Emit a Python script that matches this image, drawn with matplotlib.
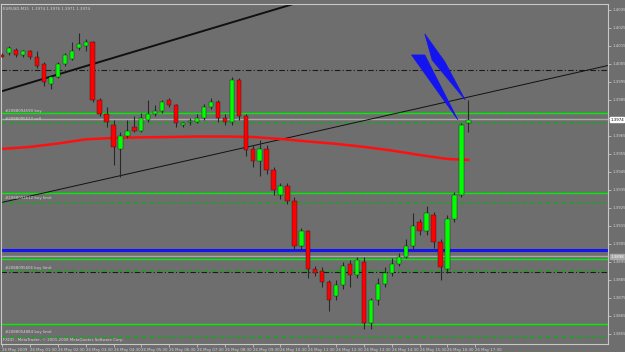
import numpy as np
import matplotlib
matplotlib.use('Agg')
import matplotlib.pyplot as plt
from matplotlib.patches import Polygon

# ---------------------------------------------------------------------------
# Style
# ---------------------------------------------------------------------------
BG     = '#6e6e6e'
FG     = '#d4d4d4'
BULL   = '#00ff00'
BEAR   = '#ff0000'
WICK   = '#282828'
GREEN  = '#00ee00'
DGREEN = '#00b800'
BLUE   = '#1414f0'
MONO   = 'DejaVu Sans'
SMALL  = 2.8

# ---------------------------------------------------------------------------
# EURUSD M15 bars, 26 May 2009
# ---------------------------------------------------------------------------
OPEN = [1.4010, 1.4011, 1.4013, 1.4010, 1.4012, 1.4009, 1.4005, 1.3994, 1.3998, 1.4005,
        1.4008, 1.4014, 1.4015, 1.4017, 1.3985, 1.3977, 1.3971, 1.3958, 1.3965, 1.3970,
        1.3968, 1.3974, 1.3977, 1.3979, 1.3985, 1.3982, 1.3971, 1.3973, 1.3973, 1.3975,
        1.3981, 1.3984, 1.3975, 1.3973, 1.3996, 1.3976, 1.3958, 1.3951, 1.3958, 1.3946,
        1.3932, 1.3937, 1.3929, 1.3904, 1.3912, 1.3891, 1.3890, 1.3884, 1.3876, 1.3882,
        1.3894, 1.3888, 1.3895, 1.3861, 1.3874, 1.3883, 1.3889, 1.3894, 1.3898, 1.3904,
        1.3917, 1.3912, 1.3921, 1.3906, 1.3891, 1.3919, 1.3932, 1.3972]
HIGH = [1.4011, 1.4015, 1.4014, 1.4013, 1.4013, 1.4012, 1.4006, 1.3999, 1.4006, 1.4011,
        1.4017, 1.4022, 1.4019, 1.4018, 1.3986, 1.3981, 1.3974, 1.3967, 1.3974, 1.3976,
        1.3978, 1.3985, 1.3982, 1.3985, 1.3986, 1.3983, 1.3973, 1.3975, 1.3977, 1.3983,
        1.3986, 1.3985, 1.3977, 1.3998, 1.3997, 1.3977, 1.3960, 1.3963, 1.3960, 1.3948,
        1.3939, 1.3939, 1.3931, 1.3914, 1.3913, 1.3893, 1.3892, 1.3885, 1.3885, 1.3895,
        1.3896, 1.3898, 1.3898, 1.3875, 1.3886, 1.3892, 1.3897, 1.3900, 1.3908, 1.3922,
        1.3919, 1.3926, 1.3923, 1.3908, 1.3921, 1.3934, 1.3972, 1.3985]
LOW  = [1.4009, 1.4010, 1.4009, 1.4009, 1.4008, 1.4003, 1.3993, 1.3991, 1.3997, 1.4004,
        1.4007, 1.4013, 1.4012, 1.3984, 1.3976, 1.3970, 1.3949, 1.3942, 1.3964, 1.3967,
        1.3967, 1.3973, 1.3976, 1.3978, 1.3981, 1.3970, 1.3970, 1.3971, 1.3972, 1.3974,
        1.3980, 1.3973, 1.3971, 1.3971, 1.3974, 1.3954, 1.3948, 1.3943, 1.3944, 1.3932,
        1.3930, 1.3927, 1.3902, 1.3902, 1.3886, 1.3887, 1.3881, 1.3868, 1.3874, 1.3880,
        1.3881, 1.3886, 1.3858, 1.3858, 1.3871, 1.3881, 1.3887, 1.3893, 1.3897, 1.3902,
        1.3910, 1.3910, 1.3903, 1.3885, 1.3889, 1.3917, 1.3931, 1.3967]
CLOSE = [1.4009, 1.4014, 1.4010, 1.4012, 1.4009, 1.4004, 1.3995, 1.3998, 1.4005, 1.4010,
         1.4012, 1.4016, 1.4017, 1.3985, 1.3977, 1.3973, 1.3959, 1.3965, 1.3968, 1.3968,
         1.3975, 1.3977, 1.3979, 1.3984, 1.3982, 1.3972, 1.3972, 1.3973, 1.3975, 1.3981,
         1.3984, 1.3975, 1.3973, 1.3996, 1.3976, 1.3957, 1.3951, 1.3958, 1.3946, 1.3935,
         1.3937, 1.3929, 1.3904, 1.3912, 1.3891, 1.3889, 1.3884, 1.3874, 1.3882, 1.3893,
         1.3888, 1.3896, 1.3861, 1.3874, 1.3883, 1.3889, 1.3894, 1.3898, 1.3904, 1.3915,
         1.3912, 1.3922, 1.3906, 1.3892, 1.3919, 1.3932, 1.3971, 1.3974]

# moving average (red), sampled at these bar indices
MA_IDX = [0, 4, 8, 12, 16, 20, 24, 28, 32, 36, 40, 44, 48, 52, 56, 60, 64, 67]
MA_VAL = [1.39578, 1.39589, 1.39608, 1.39631, 1.39639, 1.39642, 1.39644, 1.39647, 1.39647,
          1.39644, 1.39633, 1.39619, 1.39606, 1.39589, 1.39569, 1.39544, 1.39522, 1.39517]

# trend lines: anchor bars and prices
THICK_IDX, THICK_PX = [0, 30], [1.39899, 1.40246]
THIN_IDX,  THIN_PX  = [0, 86], [1.39281, 1.40032]

# horizontal levels
GREEN_SOLID = [1.39778, 1.39333, 1.38967, 1.38603]
GREEN_DASH  = [1.39728, 1.39285, 1.38906, 1.38533]
BLACK_DD    = [1.40017, 1.38894]
GRAY_LINES  = [1.39744, 1.38983]
BLUE_LINES  = [1.39017]

ORDER_TEXT  = ['#2088094590 buy', '#2088095613 sell', '#2088094612 buy limit',
               '#2088095606 buy limit', '#2088054884 buy limit']
ORDER_PX    = [1.39789, 1.39744, 1.39306, 1.38917, 1.38562]

# blue wedges (bar index, price)
WEDGE_A = [(60.74, 1.40217), (61.79, 1.40072), (66.54, 1.39850), (63.64, 1.40061)]
WEDGE_B = [(58.83, 1.40100), (60.74, 1.40100), (65.50, 1.39739)]

Y_TICKS  = [1.3855, 1.3865, 1.3875, 1.3885, 1.3895, 1.3905, 1.3915, 1.3925, 1.3935, 1.3945,
            1.3955, 1.3965, 1.3975, 1.3985, 1.3995, 1.4005, 1.4015, 1.4025, 1.4035]
X_TICKS  = [0, 4, 8, 12, 16, 20, 24, 28, 32, 36, 40, 44, 48, 52, 56, 60, 64, 68]
X_LABELS = ['26 May 2009', '26 May 01:30', '26 May 02:30', '26 May 03:30', '26 May 04:30',
            '26 May 05:30', '26 May 06:30', '26 May 07:30', '26 May 08:30', '26 May 09:30',
            '26 May 10:30', '26 May 11:30', '26 May 12:30', '26 May 13:30', '26 May 14:30',
            '26 May 15:30', '26 May 16:30', '26 May 17:30']

BID   = 1.3974
MARK2 = 1.3898


def main():
    fig = plt.figure(figsize=(6.25, 3.52), dpi=100)
    fig.patch.set_facecolor(BG)
    ax = fig.add_axes([1 / 625, 8 / 352, 607 / 625, 340 / 352])
    ax.set_facecolor(BG)
    ax.set_xlim(-0.17, 87.07)
    ax.set_ylim(1.38494, 1.40383)

    o = np.array(OPEN); h = np.array(HIGH); l = np.array(LOW); c = np.array(CLOSE)
    x = np.arange(len(o))

    # horizontal levels
    for p in BLUE_LINES:
        ax.axhline(p, color=BLUE, lw=2.2, zorder=1)
    for p in GRAY_LINES:
        ax.axhline(p, color='#a8a8a8', lw=1.0, zorder=1)
    for p in GREEN_SOLID:
        ax.axhline(p, color=GREEN, lw=1.0, zorder=1)
    for p in GREEN_DASH:
        ax.axhline(p, color=DGREEN, lw=0.8, dashes=(4, 3), zorder=1)
    for p in BLACK_DD:
        ax.axhline(p, color='#1a1a1a', lw=0.8, dashes=(5, 2, 1, 2), zorder=1)

    # trend lines (rays)
    for idx, px, lw in [(THICK_IDX, THICK_PX, 1.4), (THIN_IDX, THIN_PX, 0.7)]:
        slope = (px[1] - px[0]) / (idx[1] - idx[0])
        xs = np.array([idx[0], 90])
        ax.plot(xs, px[0] + slope * (xs - idx[0]), color='#111111', lw=lw, zorder=2)

    # moving average
    ax.plot(MA_IDX, MA_VAL, color='#ff1010', lw=1.8, zorder=2)

    # candles
    up = c >= o
    ax.vlines(x, l, h, color=WICK, lw=0.8, zorder=3)
    body = np.maximum(np.abs(c - o), 0.00003)
    ax.bar(x, body, bottom=np.minimum(o, c), width=0.62,
           color=np.where(up, BULL, BEAR), edgecolor='#1e1e1e', linewidth=0.3, zorder=4)

    # blue wedges
    for pts in (WEDGE_A, WEDGE_B):
        ax.add_patch(Polygon(pts, closed=True, facecolor=BLUE, edgecolor=BLUE,
                             lw=0.5, zorder=5))

    # order labels
    for txt, p in zip(ORDER_TEXT, ORDER_PX):
        ax.text(0.4, p, txt, color=FG, fontsize=SMALL, fontfamily=MONO,
                va='center', ha='left', zorder=6)

    ax.text(0.004, 0.99, 'EURUSD,M15  1.3974 1.3976 1.3971 1.3974', transform=ax.transAxes,
            color=FG, fontsize=SMALL, fontfamily=MONO, va='top', ha='left')
    ax.text(0.004, 0.005, 'FXDD - MetaTrader, \u00a9 2001-2008 MetaQuotes Software Corp.',
            transform=ax.transAxes, color=FG, fontsize=SMALL, fontfamily=MONO,
            va='bottom', ha='left')

    # axes
    for s in ax.spines.values():
        s.set_edgecolor('#c8c8c8')
        s.set_linewidth(0.8)
    ax.yaxis.tick_right()
    ax.set_yticks(Y_TICKS)
    # the bid box covers the label nearest to it, as on the terminal
    ax.set_yticklabels(['' if abs(v - BID) < 0.0003 else f'{v:.4f}' for v in Y_TICKS])
    ax.tick_params(axis='y', colors=FG, labelsize=SMALL, length=2, pad=1.0, width=0.5)
    ax.set_xticks(X_TICKS)
    ax.set_xticklabels(X_LABELS)
    ax.tick_params(axis='x', colors=FG, labelsize=SMALL, length=2, pad=0.6, width=0.5)
    for lab in ax.get_xticklabels():
        lab.set_ha('left')
    for lab in ax.get_yticklabels():
        lab.set_fontfamily(MONO)

    # price boxes on the scale
    ax.text(1.0035, BID, f'{BID:.4f}', transform=ax.get_yaxis_transform(), color='black',
            fontsize=SMALL, va='center', ha='left',
            bbox=dict(boxstyle='square,pad=0.15', fc='white', ec='white'), clip_on=False)
    ax.text(1.0035, MARK2, f'{MARK2:.4f}', transform=ax.get_yaxis_transform(), color='#ffffff',
            fontsize=SMALL, va='center', ha='left',
            bbox=dict(boxstyle='square,pad=0.15', fc='#a8a8a8', ec='#a8a8a8'), clip_on=False)

    fig.savefig('out.png', dpi=100, facecolor=BG)
    plt.close(fig)


if __name__ == '__main__':
    main()
